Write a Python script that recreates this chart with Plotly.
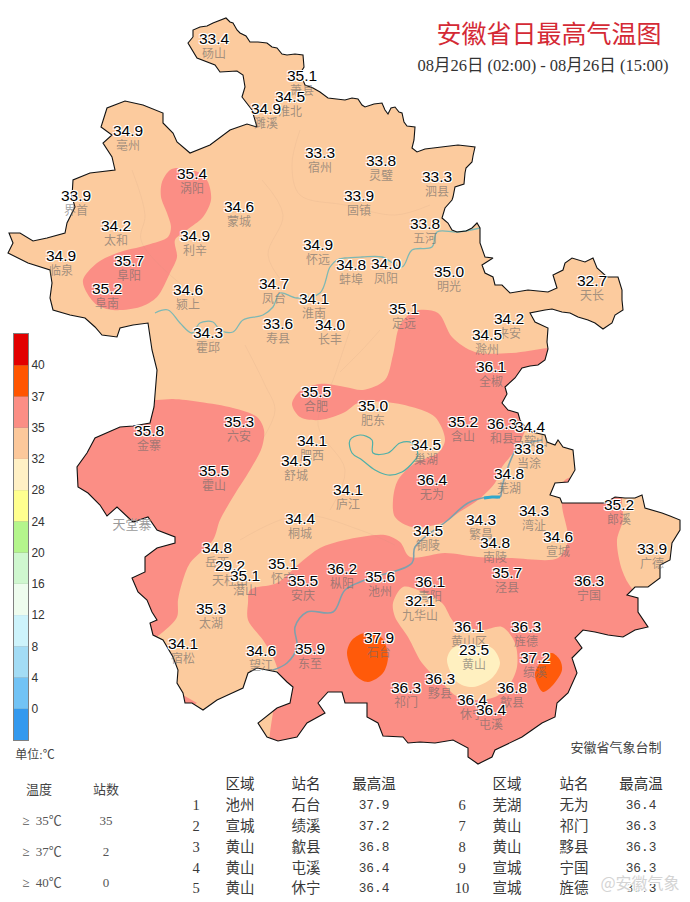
import plotly.graph_objects as go

# everything is traced in picture pixels, y pointing down
border = [
    (193,37),(193,30),(200,27),(207,26),(213,23),(220,20),(226,18),(230,22),(233,23),(237,30),(240,33),(246,36),(250,42),
    (258,42),(267,43),(272,47),(277,48),(282,54),(287,55),(295,54),(303,55),(304,67),(301,72),(303,80),(305,85),(313,88),
    (320,92),(328,98),(336,99),(345,100),(352,98),(358,99),(362,105),(365,107),(374,104),(382,103),(385,110),(388,114),
    (391,108),(395,107),(399,112),(402,113),(404,122),(407,126),(415,127),(414,140),(412,148),(417,152),(425,149),(433,148),
    (445,147),(458,145),(467,146),(475,147),(473,156),(472,162),(466,168),(465,173),(464,184),(455,187),(453,197),(452,200),
    (445,208),(443,215),(442,218),(448,223),(452,230),(457,232),(466,231),(472,228),(477,223),(480,228),(480,243),(485,257),
    (493,258),(482,265),(485,273),(493,277),(495,285),(502,285),(510,293),(528,290),(548,292),(557,288),(553,275),(563,270),
    (565,263),(572,258),(580,260),(585,262),(593,258),(597,268),(607,277),(618,277),(622,290),(622,300),(623,310),(615,315),
    (612,323),(603,329),(595,323),(588,320),(578,317),(570,313),(562,312),(552,309),(545,310),(530,313),(535,322),(541,325),
    (548,328),(547,342),(548,349),(545,360),(538,365),(530,366),(522,368),(515,378),(505,387),(507,394),(502,403),(508,410),
    (518,413),(520,420),(526,428),(532,432),(545,435),(547,442),(555,445),(558,440),(563,447),(573,450),(575,470),(568,482),
    (555,483),(550,495),(560,498),(562,503),(585,503),(605,503),(615,497),(625,498),(635,498),(642,495),(645,508),(653,510),
    (662,513),(670,516),(680,520),(680,530),(672,543),(670,560),(660,565),(660,578),(648,587),(635,587),(627,595),(638,598),
    (638,612),(648,627),(635,630),(623,637),(608,635),(595,632),(583,630),(575,638),(582,648),(572,658),(577,673),(568,693),
    (557,703),(555,717),(542,723),(532,730),(522,737),(495,750),(492,757),(478,764),(468,757),(468,748),(453,740),(435,743),
    (420,742),(408,743),(403,737),(383,736),(378,723),(367,717),(367,703),(345,703),(342,692),(328,692),(318,703),(325,713),
    (307,723),(297,737),(278,741),(267,737),(258,723),(277,708),(290,703),(293,687),(287,682),(277,672),(257,668),(248,673),
    (243,688),(230,694),(217,700),(203,710),(192,703),(185,703),(183,693),(177,683),(178,670),(173,657),(163,640),(153,635),
    (150,623),(157,620),(152,612),(147,600),(138,592),(132,578),(145,572),(145,557),(157,548),(175,543),(175,537),(157,530),
    (148,517),(133,522),(117,507),(107,516),(100,505),(88,493),(78,487),(77,467),(87,453),(95,438),(108,432),(120,427),
    (133,426),(150,423),(154,407),(155,397),(157,370),(152,350),(148,323),(133,325),(120,328),(117,337),(102,335),(95,327),
    (85,318),(70,315),(53,310),(50,298),(52,283),(50,270),(38,266),(28,263),(8,253),(13,243),(9,233),(20,233),(33,241),
    (47,238),(65,233),(67,223),(75,207),(72,197),(73,180),(90,173),(115,170),(112,157),(103,143),(112,135),(101,127),
    (107,108),(125,101),(143,105),(163,113),(163,123),(173,133),(177,142),(190,153),(210,145),(230,130),(247,124),(257,127),
    (252,110),(242,97),(245,87),(243,75),(237,71),(220,72),(215,65),(197,58),(188,43),
]

# 35-37 band, these run past the border and the mask trims them
warm_north = [
    (178,168),(170,170),(162,182),(161,197),(167,213),(171,227),(168,237),(147,245),(117,253),(97,263),(83,280),(87,293),
    (97,305),(113,310),(140,307),(157,297),(170,273),(177,257),(175,240),(187,230),(203,217),(211,200),(208,182),(200,173),
]
warm_west = [
    (120,400),(157,400),(173,399),(200,402),(233,408),(257,417),(264,430),(262,447),(250,470),(233,497),(220,520),(213,540),
    (190,563),(182,583),(178,600),(177,617),(163,632),(150,640),(110,640),(40,540),(50,430),
]
warm_east = [
    (292,404),(300,391),(320,384),(345,387),(363,390),(385,380),(393,355),(400,325),(415,311),(438,313),(452,337),(475,352),
    (512,353),(548,348),(600,345),(600,400),(530,425),(518,447),(502,467),(495,483),(478,500),(458,513),(442,523),(412,527),
    (395,517),(393,500),(398,480),(415,463),(438,453),(445,440),(435,417),(412,407),(385,402),(358,403),(345,412),(320,420),(300,417),
]
warm_south = [
    (248,603),(250,590),(277,583),(300,563),(320,548),(345,540),(385,535),(400,542),(410,557),(445,553),(478,557),(512,558),
    (558,558),(568,540),(562,505),(565,480),(620,480),(622,503),(623,520),(617,540),(622,570),(633,590),(680,630),(680,790),
    (278,790),(278,672),(273,657),(263,640),(248,620),
]
warm_corner = [(183,695),(197,703),(187,708)]
cool_jiuhua = [
    (393,603),(403,587),(418,590),(442,603),(455,623),(482,630),(502,627),(515,643),(517,667),(508,687),(495,697),(478,700),
    (458,697),(442,683),(422,663),(408,637),(395,617),
]
pale_huangshan = [(447,660),(453,648),(472,645),(492,648),(500,663),(492,678),(473,687),(457,682)]
hot_shitai = [(347,653),(352,640),(365,633),(382,638),(388,657),(383,673),(368,682),(355,675)]
hot_jixi = [(535,673),(545,657),(552,653),(560,660),(562,670),(553,685),(543,692),(537,683)]

huai_river = [
    (155,313),(168,310),(180,323),(192,333),(200,323),(213,322),(220,330),(233,332),(243,320),(263,315),(273,307),(280,293),
    (297,298),(320,293),(330,267),(337,260),(345,258),(362,257),(382,257),(402,267),(412,250),(432,247),(437,232),(458,232),(480,228),
]
yangtze = [
    (273,670),(287,663),(297,647),(295,627),(307,612),(333,612),(345,590),(365,580),(412,563),(415,547),(448,520),(468,503),
    (488,497),(500,497),(502,487),(512,457),(518,447),(542,440),
]
yangtze_wide = [(484,498),(492,497),(500,497)]
chaohu = [
    (350,440),(360,435),(372,440),(373,453),(388,453),(400,443),(412,443),(418,455),(415,460),(402,472),(388,475),(375,470),
    (362,460),(352,453),(350,440),
]
county_lines = [
    [(132,170),(145,215),(141,240),(170,275),(205,300)],
    [(262,180),(283,215),(268,255),(285,285)],
    [(300,130),(292,165),(300,195),(345,205),(395,215),(430,205)],
    [(245,345),(265,385),(275,410),(262,440)],
    [(350,330),(335,375),(318,425),(345,470),(330,510)],
    [(240,540),(300,515),(360,530),(395,545)],
    [(380,330),(362,350),(340,372)],
]

station_names = [
    "砀山","萧县","淮北","濉溪","亳州","宿州","灵璧","泗县","涡阳","界首","固镇","蒙城","太和","五河","利辛","怀远",
    "临泉","蚌埠","凤阳","阜阳","明光","天长","颍上","阜南","凤台","淮南","寿县","长丰","霍邱","定远","来安","滁州",
    "全椒","合肥","肥东","六安","金寨","含山","和县","马鞍山","当涂","肥西","舒城","巢湖","无为","霍山","庐江","芜湖",
    "桐城","繁昌","湾沚","铜陵","南陵","宣城","郎溪","广德","岳西","天柱山","潜山","怀宁","太湖","枞阳","安庆","池州",
    "泾县","青阳","宁国","九华山","宿松","望江","东至","黄山区","旌德","石台","黄山","绩溪","黟县","祁门","歙县","休宁","屯溪",
]
station_values = [
    33.4,35.1,34.5,34.9,34.9,33.3,33.8,33.3,35.4,33.9,33.9,34.6,34.2,33.8,34.9,34.9,
    34.9,34.8,34.0,35.7,35.0,32.7,34.6,35.2,34.7,34.1,33.6,34.0,34.3,35.1,34.2,34.5,
    36.1,35.5,35.0,35.3,35.8,35.2,36.3,34.4,33.8,34.1,34.5,34.5,36.4,35.5,34.1,34.8,
    34.4,34.3,34.3,34.5,34.8,34.6,35.2,33.9,34.8,29.2,35.1,35.1,35.3,36.2,35.5,35.6,
    35.7,36.1,36.3,32.1,34.1,34.6,35.9,36.1,36.3,37.9,23.5,37.2,36.3,36.3,36.8,36.4,36.4,
]
station_x = [
    214,302,290,266,128,320,381,437,192,76,359,239,116,425,195,318,
    61,351,386,129,449,592,188,107,274,314,278,330,208,404,509,487,
    491,316,373,239,149,463,502,530,529,312,296,426,432,214,348,509,
    300,481,534,428,495,558,619,652,217,230,245,283,211,342,303,380,
    507,430,589,420,183,261,310,469,526,379,474,535,440,406,512,472,491,
]
station_y = [
    40,77,98,110,132,154,162,178,175,197,197,208,227,225,237,246,
    257,266,265,262,273,282,291,290,285,300,325,326,334,310,320,336,
    368,393,407,423,432,423,425,428,450,442,462,446,481,472,491,475,
    520,521,512,532,544,538,506,550,549,567,577,565,610,570,582,578,
    574,583,582,602,645,652,650,628,628,639,651,659,680,689,689,701,711,
]

legend_levels = ["0","4","8","12","16","20","24","28","32","35","37","40"]
legend_colors = [
    "#3399EE","#72C3F5","#A3DCF5","#CDF3FB","#EEFCEE","#CFF7CF","#B4F58C",
    "#FFFF8F","#FFF0C5","#FCC89B","#FB8E85","#FF5500","#E20000",
]

summary_labels = ["≥  35℃","≥  37℃","≥  40℃"]
summary_counts = [35,2,0]

rank_left = ["1","2","3","4","5"]
region_left = ["池州","宣城","黄山","黄山","黄山"]
site_left = ["石台","绩溪","歙县","屯溪","休宁"]
top_left = [37.9,37.2,36.8,36.4,36.4]
rank_right = ["6","7","8","9","10"]
region_right = ["芜湖","黄山","黄山","宣城","宣城"]
site_right = ["无为","祁门","黟县","宁国","旌德"]
top_right = [36.4,36.3,36.3,36.3,36.3]

PEACH = "#FCCB9E"
SALMON = "#FB8E85"
SERIF = "Liberation Serif, Noto Sans CJK SC"
MONO = "Liberation Mono, Noto Sans CJK SC"
SANS = "Liberation Sans, Arial, sans-serif"
HALO = "1px 1px 0 #fff, -1px -1px 0 #fff, 1px -1px 0 #fff, -1px 1px 0 #fff, 0 0 2px #fff"

fig = go.Figure()


def xs(pts):
    return [p[0] for p in pts]


def ys(pts):
    return [p[1] for p in pts]


def add_area(pts, color, shape="spline"):
    closed = pts + pts[:1]
    fig.add_trace(go.Scatter(
        x=xs(closed), y=ys(closed), mode="lines", fill="toself", fillcolor=color,
        line={"width": 0, "color": color, "shape": shape, "smoothing": 0.9},
        hoverinfo="skip", showlegend=False,
    ))


def add_line(pts, color, width, shape="linear"):
    fig.add_trace(go.Scatter(
        x=xs(pts), y=ys(pts), mode="lines", line={"color": color, "width": width, "shape": shape},
        hoverinfo="skip", showlegend=False,
    ))


def add_text(x, y, text, size, color, family=SERIF, shadow=None):
    font = {"size": size, "color": color, "family": family}
    if shadow:
        font["shadow"] = shadow
    fig.add_trace(go.Scatter(
        x=x, y=y, text=text, mode="text", textposition="middle center", textfont=font,
        hoverinfo="skip", showlegend=False,
    ))


add_area(border, PEACH, "linear")
for region in [warm_north, warm_west, warm_east, warm_south]:
    add_area(region, SALMON)
add_area(warm_corner, SALMON, "linear")
add_area(cool_jiuhua, PEACH)
add_area(pale_huangshan, "#FFF0C0")
add_area(hot_shitai, "#FF5A0A")
add_area(hot_jixi, "#FF5A0A")

# white page with the province cut out
fig.add_trace(go.Scatter(
    x=[0, 0, 690, 690, 0, None] + xs(border) + [border[0][0]],
    y=[0, 902, 902, 0, 0, None] + ys(border) + [border[0][1]],
    mode="lines", fill="toself", fillcolor="white", line={"width": 0},
    hoverinfo="skip", showlegend=False,
))

for county in county_lines:
    add_line(county, "rgba(190,150,120,0.12)", 1, "spline")
add_line(huai_river, "#7DB8B4", 1.3, "spline")
add_line(chaohu, "#4FB0A8", 1.2, "spline")
add_line(yangtze, "#7FA0AC", 1.6, "spline")
add_line(yangtze_wide, "#2FA8CC", 3)
add_line(border + border[:1], "#111111", 1.1)

add_text(station_x, [v + 14.5 for v in station_y], station_names, 12, "rgba(105,105,105,0.62)", "Noto Sans CJK SC")
add_text([132], [526], ["天堂寨"], 13, "#9A9A9A", "Noto Sans CJK SC")
add_text(station_x, station_y, [f"{v:.1f}" for v in station_values], 15.5, "#000000", SANS, HALO)

add_text([549], [37], ["安徽省日最高气温图"], 25, "#D42A35")
add_text([543], [67], ["08月26日 (02:00) - 08月26日 (15:00)"], 16.5, "#333333")
add_text([35], [756], ["单位:℃"], 12, "#444444")
add_text([616], [749], ["安徽省气象台制"], 13, "#444444")

add_text([39, 106], [791, 791], ["温度", "站数"], 13, "#444444")
summary_y = [822, 853, 884]
add_text([42, 42, 42], summary_y, summary_labels, 13, "#555555")
add_text([106, 106, 106], summary_y, [str(n) for n in summary_counts], 13, "#555555")

table_y = [806, 827, 848, 869, 889]
for col_x, head in zip([240, 306, 374, 507, 574, 641], ["区域", "站名", "最高温"] * 2):
    add_text([col_x], [785], [head], 14.5, "#333333")
for col_x, col in zip([196, 240, 306, 462, 507, 574], [rank_left, region_left, site_left, rank_right, region_right, site_right]):
    add_text([col_x] * 5, table_y, col, 14.5, "#3A3A3A")
for col_x, col in zip([374, 641], [top_left, top_right]):
    add_text([col_x] * 5, table_y, [f"{v:.1f}" for v in col], 12.8, "#3A3A3A", MONO)

add_text([640], [885], ["@安徽气象"], 16, "#D4D4D4", "Noto Sans CJK SC", HALO)

# colour scale on its own axes, one unit per band
for i, color in enumerate(legend_colors):
    fig.add_trace(go.Bar(
        x=[0], y=[1], base=[i], width=[1], marker={"color": color, "line": {"width": 0}},
        xaxis="x2", yaxis="y2", hoverinfo="skip", showlegend=False,
    ))

fig.update_layout(
    width=690,
    height=902,
    margin={"l": 0, "r": 0, "t": 0, "b": 0},
    paper_bgcolor="white",
    plot_bgcolor="white",
    showlegend=False,
    barmode="overlay",
    xaxis={"range": [0, 690], "visible": False, "fixedrange": True, "domain": [0, 1]},
    yaxis={"range": [902, 0], "visible": False, "fixedrange": True, "domain": [0, 1]},
    xaxis2={
        "domain": [14 / 690, 28 / 690], "range": [-0.5, 0.5], "anchor": "y2",
        "showticklabels": False, "showgrid": False, "zeroline": False, "ticks": "",
        "showline": True, "linecolor": "#808080", "mirror": True,
    },
    yaxis2={
        "domain": [1 - 740 / 902, 1 - 334 / 902], "range": [0, 13], "anchor": "x2", "side": "right",
        "tickvals": list(range(1, 13)), "ticktext": legend_levels,
        "tickfont": {"size": 12, "color": "#333333", "family": SANS},
        "showgrid": True, "gridcolor": "#8A8A8A", "gridwidth": 1, "layer": "above traces",
        "zeroline": False, "ticks": "", "showline": True, "linecolor": "#808080", "mirror": True,
    },
)

fig.write_html("out.html", config={"displayModeBar": False}, post_script="document.body.style.margin='0';")
